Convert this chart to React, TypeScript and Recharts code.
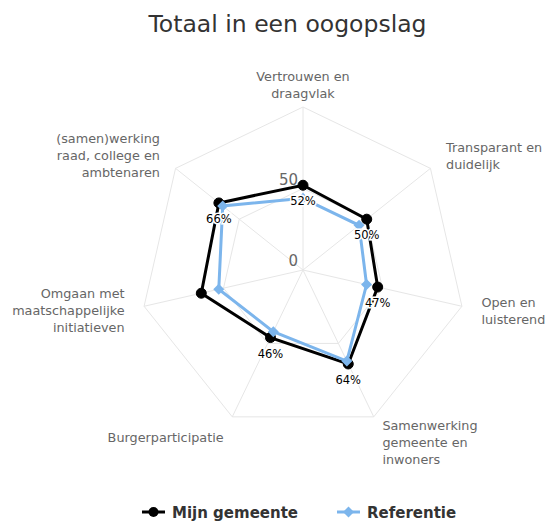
import { RadarChart, Radar, PolarGrid, PolarAngleAxis, PolarRadiusAxis } from 'recharts';

// categorieën (regelafbreking zoals in de grafiek)
const categories = [
  'Vertrouwen en\ndraagvlak',
  'Transparant en\nduidelijk',
  'Open en\nluisterend',
  'Samenwerking\ngemeente en\ninwoners',
  'Burgerparticipatie',
  'Omgaan met\nmaatschappelijke\ninitiatieven',
  '(samen)werking\nraad, college en\nambtenaren',
];
const mijnGemeente = [52, 50, 47, 64, 46, 64, 66];
const referentie = [44, 44, 40, 62, 42, 53, 63];
// label bij "Omgaan met..." wordt in het origineel niet getoond
const showLabel = [true, true, true, true, true, false, true];
const radiusTicks = [0, 50, 100];

const FONT = '"DejaVu Sans", sans-serif';
const W = 542;
const H = 514;
const CX = 295;
const CY = 262;
const R = 163;
const BLUE = '#7cb5ec';

const data = categories.map((c, i) => ({ axis: c, mijn: mijnGemeente[i], ref: referentie[i] }));

const AngleTick = (props: any) => {
  const { payload } = props;
  const lines = String(payload.value).split('\n');
  const a = (-payload.coordinate * Math.PI) / 180;
  const ux = Math.cos(a);
  const uy = Math.sin(a);
  const px = CX + (R + 20) * ux;
  const py = CY + (R + 20) * uy;
  const anchor = Math.abs(ux) < 0.1 ? 'middle' : ux > 0 ? 'start' : 'end';
  const LH = 17;
  const shift = uy > 0.5 ? 3 + (lines.length - 1) * 2.5 : uy < -0.9 ? -2 : 0;
  const first = py + shift - ((lines.length - 1) * LH) / 2 + 4.5;
  return (
    <text textAnchor={anchor} fontSize={12.8} fill="#666666" fontFamily={FONT}>
      {lines.map((l, i) => (
        <tspan key={i} x={px} y={first + i * LH}>
          {l}
        </tspan>
      ))}
    </text>
  );
};

const RadiusTick = (props: any) => {
  const { x, y, payload } = props;
  if (payload.value === 100) return <g />;
  return (
    <text x={x - 5} y={y - 4} textAnchor="end" fontSize={15} fill="#666666" fontFamily={FONT}>
      {payload.value}
    </text>
  );
};

const Diamond = (props: any) => {
  const { cx, cy } = props;
  if (cx == null || cy == null) return <g />;
  const s = 5.5;
  return <path d={`M${cx},${cy - s}L${cx + s},${cy}L${cx},${cy + s}L${cx - s},${cy}Z`} fill={BLUE} />;
};

const renderLabel = (props: any) => {
  const { x, y, value, index } = props;
  if (!showLabel[index]) return <g />;
  return (
    <text
      x={x}
      y={y + 20}
      textAnchor="middle"
      fontSize={11.5}
      fill="#000"
      stroke="#fff"
      strokeWidth={3}
      paintOrder="stroke"
      fontFamily={FONT}
    >
      {`${Math.round(value)}%`}
    </text>
  );
};

export default function App() {
  return (
    <div style={{ width: W + 8, height: H + 8, paddingLeft: 8, paddingTop: 8, boxSizing: 'border-box' }}>
      <style>{'body { margin: 0; }'}</style>
      <div style={{ position: 'relative', width: W, height: H, fontFamily: FONT }}>
        <RadarChart
          width={W}
          height={H}
          data={data}
          cx={CX}
          cy={CY}
          outerRadius={R}
          margin={{ top: 0, right: 0, bottom: 0, left: 0 }}
        >
          <PolarGrid gridType="polygon" stroke="#e6e6e6" />
          <PolarAngleAxis dataKey="axis" tick={AngleTick} tickLine={false} axisLine={false} />
          <PolarRadiusAxis
            angle={90}
            domain={[0, 100]}
            ticks={radiusTicks}
            tickCount={3}
            axisLine={false}
            tick={RadiusTick}
          />
          <Radar
            name="Mijn gemeente"
            dataKey="mijn"
            stroke="#000"
            strokeWidth={3}
            fill="none"
            fillOpacity={0}
            dot={{ r: 5, fill: '#000', fillOpacity: 1, stroke: '#000', strokeWidth: 1 }}
            isAnimationActive={false}
          />
          <Radar
            name="Referentie"
            dataKey="ref"
            stroke={BLUE}
            strokeWidth={3}
            fill="none"
            fillOpacity={0}
            dot={Diamond}
            isAnimationActive={false}
          />
          {/* labels bovenop alle lijnen */}
          <Radar
            name="labels"
            dataKey="mijn"
            stroke="none"
            fill="none"
            fillOpacity={0}
            dot={false}
            legendType="none"
            label={renderLabel}
            isAnimationActive={false}
          />
        </RadarChart>

        <svg width={W} height={H} style={{ position: 'absolute', left: 0, top: 0, pointerEvents: 'none' }}>
          <text x={279.5} y={24} textAnchor="middle" fontSize={23.5} fill="#333333" fontFamily={FONT}>
            Totaal in een oogopslag
          </text>
          <g>
            <line x1={134} y1={504} x2={157} y2={504} stroke="#000" strokeWidth={3} />
            <circle cx={145.5} cy={504} r={5} fill="#000" />
            <text x={164} y={509.5} fontSize={15} fontWeight="bold" fill="#333333" fontFamily={FONT}>
              Mijn gemeente
            </text>
          </g>
          <g>
            <line x1={329} y1={504} x2={352} y2={504} stroke={BLUE} strokeWidth={3} />
            <path d="M340.5,498.5L346,504L340.5,509.5L335,504Z" fill={BLUE} />
            <text x={359} y={509.5} fontSize={15} fontWeight="bold" fill="#333333" fontFamily={FONT}>
              Referentie
            </text>
          </g>
        </svg>
      </div>
    </div>
  );
}
